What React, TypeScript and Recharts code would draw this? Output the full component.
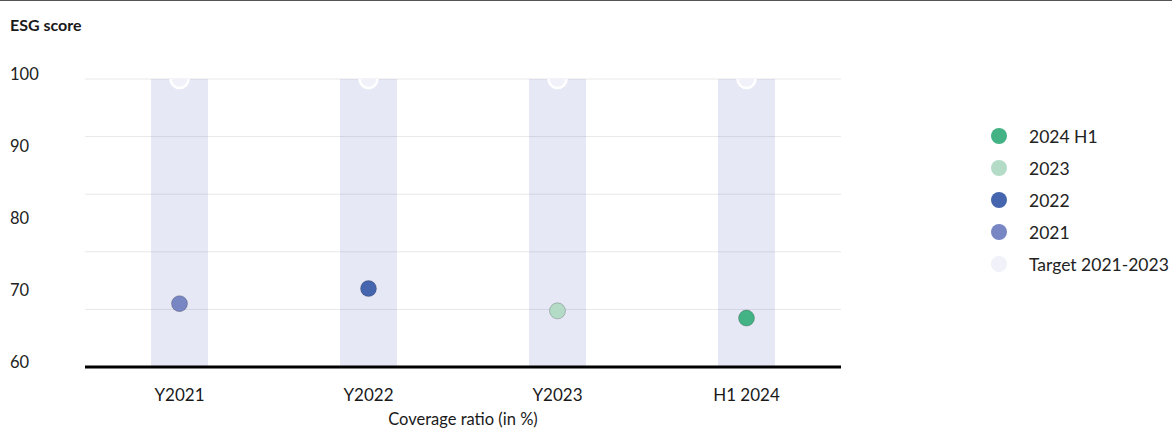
import React from "react";
import { ComposedChart, Bar, Scatter, XAxis, YAxis, CartesianGrid } from "recharts";

const categories = ["Y2021", "Y2022", "Y2023", "H1 2024"];
const targetValues = [100, 100, 100, 100];
const seriesNames = ["2024 H1", "2023", "2022", "2021"];
const seriesCategories = ["H1 2024", "Y2023", "Y2022", "Y2021"];
const seriesValues = [66.8, 67.8, 70.9, 68.8];
const seriesColors = ["#43b284", "#b3dbc6", "#4566ae", "#7886c4"];
const targetName = "Target 2021-2023";
const targetColor = "#f0f1f9";
const yTicks = [60, 70, 80, 90, 100];
const gridValues = [68, 76, 84, 92, 100];

const FONT = "Lato, 'Noto Sans', sans-serif";

const chartData = categories.map((c, i) => ({ cat: c, target: targetValues[i] }));
const targetPoints = categories.map((c, i) => ({ cat: c, v: targetValues[i] }));

const YTick = (props: any) => {
  const { y, payload } = props;
  return (
    <text x={10} y={y - 5} dominantBaseline="central" textAnchor="start" fontSize={16.5} fill="#222" fontFamily={FONT}>
      {payload.value}
    </text>
  );
};

const XTick = (props: any) => {
  const { x, y, payload } = props;
  return (
    <text x={x} y={y + 27} dominantBaseline="central" textAnchor="middle" fontSize={17} fill="#1a1a1a" fontFamily={FONT}>
      {payload.value}
    </text>
  );
};

const makeDot = (fill: string, stroke: string, sw: number, r: number) => (props: any) => {
  const { cx, cy } = props;
  if (cx == null || cy == null) return <g />;
  return <circle cx={cx} cy={cy} r={r} fill={fill} stroke={stroke} strokeWidth={sw} />;
};

const XLabel = (props: any) => {
  const vb = props.viewBox || {};
  return (
    <text x={vb.x + vb.width / 2} y={425} textAnchor="middle" fontSize={16.5} fill="#1a1a1a" fontFamily={FONT}>
      Coverage ratio (in %)
    </text>
  );
};

export default function App() {
  const legendItems = [
    ...seriesNames.map((n, i) => ({ name: n, color: seriesColors[i] })),
    { name: targetName, color: targetColor },
  ];
  return (
    <div style={{ position: "absolute", left: 0, top: 0, width: 1172, height: 428, fontFamily: FONT, background: "#fff" }}>
      <div style={{ position: "absolute", left: 0, top: 0, width: 1172, height: 0, borderTop: "1.5px solid #555" }} />
      <div style={{ position: "absolute", left: 10, top: 15, fontSize: 16, fontWeight: 700, color: "#1a1a1a", whiteSpace: "nowrap" }}>
        ESG score
      </div>
      <ComposedChart
        width={1172}
        height={428}
        data={chartData}
        margin={{ top: 79, right: 331, bottom: 0, left: 0 }}
      >
        <CartesianGrid vertical={false} horizontalValues={gridValues} stroke="#e8e8e8" strokeWidth={1} />
        <XAxis
          dataKey="cat"
          type="category"
          allowDuplicatedCategory={false}
          height={61}
          axisLine={{ stroke: "#000", strokeWidth: 3 }}
          tickLine={false}
          tickSize={0}
          tickMargin={0}
          tick={<XTick />}
          interval={0}
          label={<XLabel />}
        />
        <YAxis
          type="number"
          domain={[60, 100]}
          ticks={yTicks}
          interval={0}
          width={85}
          axisLine={false}
          tickLine={false}
          tick={<YTick />}
          allowDataOverflow
        />
        <Bar dataKey="target" fill="rgb(47,63,180)" fillOpacity={0.12} barSize={57} isAnimationActive={false} legendType="none" />
        <Scatter
          name={targetName}
          data={targetPoints}
          dataKey="v"
          isAnimationActive={false}
          shape={makeDot(targetColor, "#ffffff", 2.5, 9)}
        />
        {seriesNames.map((n, i) => (
          <Scatter
            key={n}
            name={n}
            data={[{ cat: seriesCategories[i], v: seriesValues[i] }]}
            dataKey="v"
            isAnimationActive={false}
            shape={makeDot(seriesColors[i], "rgba(0,0,0,0.25)", 0.8, 8)}
          />
        ))}
      </ComposedChart>
      {legendItems.map((it, i) => (
        <div key={it.name} style={{ position: "absolute", left: 991, top: 136 + i * 32 - 10, height: 20, display: "flex", alignItems: "center", whiteSpace: "nowrap" }}>
          <span style={{ display: "inline-block", width: 16, height: 16, borderRadius: 8, background: it.color }} />
          <span style={{ marginLeft: 22, fontSize: 17.5, color: "#222" }}>{it.name}</span>
        </div>
      ))}
    </div>
  );
}
